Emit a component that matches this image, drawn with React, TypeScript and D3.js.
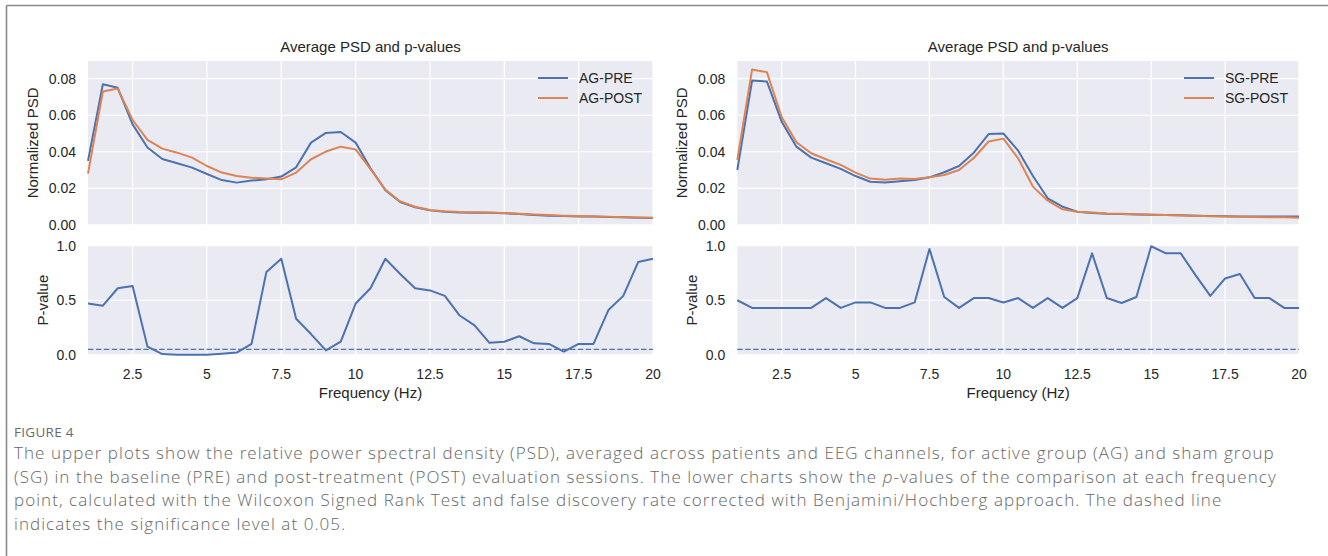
import React from "react";
import * as d3 from "d3";

// frequency bins (Hz)
const freqs = [
	1, 1.5, 2, 2.5, 3, 3.5, 4, 4.5, 5, 5.5, 6, 6.5, 7, 7.5, 8, 8.5, 9, 9.5, 10, 10.5,
	11, 11.5, 12, 12.5, 13, 13.5, 14, 14.5, 15, 15.5, 16, 16.5, 17, 17.5, 18, 18.5, 19, 19.5, 20
];
const xTicks = [2.5, 5, 7.5, 10, 12.5, 15, 17.5, 20];
const psdTicks = [0, 0.02, 0.04, 0.06, 0.08];
const pTicks = [0, 0.5, 1];
const alpha = 0.05;

const agPre = [
	0.035, 0.077, 0.075, 0.055, 0.0423, 0.036, 0.0337, 0.0313, 0.0278, 0.0245, 0.0231, 0.0242, 0.0249,
	0.0264, 0.0315, 0.045, 0.0503, 0.0508, 0.045, 0.031, 0.019, 0.0125, 0.0096, 0.0079, 0.0072, 0.0068,
	0.0066, 0.0066, 0.0063, 0.0059, 0.0054, 0.005, 0.0048, 0.0046, 0.0045, 0.0043, 0.0041, 0.0039, 0.0037
];
const agPost = [
	0.028, 0.073, 0.0746, 0.0574, 0.0465, 0.0417, 0.0395, 0.0368, 0.0322, 0.0286, 0.0267, 0.0258, 0.0253,
	0.0249, 0.0286, 0.0359, 0.0401, 0.0428, 0.0413, 0.0305, 0.0192, 0.0128, 0.0099, 0.0081, 0.0074, 0.007,
	0.0069, 0.0068, 0.0065, 0.0061, 0.0057, 0.0053, 0.005, 0.0048, 0.0046, 0.0044, 0.0042, 0.004, 0.0038
];
const agP = [
	0.47, 0.45, 0.61, 0.63, 0.075, 0.007, 0.0, 0.0, 0.0, 0.01, 0.02, 0.1, 0.76, 0.88, 0.33, 0.19, 0.04, 0.12,
	0.47, 0.61, 0.88, 0.74, 0.61, 0.59, 0.54, 0.36, 0.27, 0.11, 0.12, 0.17, 0.105, 0.1, 0.03, 0.1, 0.1,
	0.41, 0.54, 0.85, 0.88
];
const sgPre = [
	0.03, 0.079, 0.0785, 0.0565, 0.0428, 0.0368, 0.0337, 0.0306, 0.0267, 0.0236, 0.0231, 0.0238, 0.0245,
	0.026, 0.0288, 0.0322, 0.0395, 0.0497, 0.05, 0.0406, 0.0267, 0.0145, 0.0099, 0.0072, 0.0065, 0.006,
	0.0059, 0.0057, 0.0055, 0.0054, 0.0052, 0.005, 0.0048, 0.0047, 0.0046, 0.0046, 0.0045, 0.0045, 0.0045
];
const sgPost = [
	0.0355, 0.085, 0.0836, 0.059, 0.0452, 0.0392, 0.0359, 0.0328, 0.0286, 0.0253, 0.0247, 0.0253, 0.0251,
	0.026, 0.0273, 0.03, 0.0366, 0.0456, 0.0472, 0.0364, 0.0209, 0.0132, 0.0085, 0.0072, 0.0068, 0.0062,
	0.006, 0.0058, 0.0055, 0.0053, 0.0051, 0.0049, 0.0047, 0.0045, 0.0044, 0.0043, 0.0042, 0.0041, 0.0039
];
const sgP = [
	0.5, 0.43, 0.43, 0.43, 0.43, 0.43, 0.52, 0.43, 0.48, 0.48, 0.43, 0.43, 0.48, 0.97, 0.53, 0.43, 0.52, 0.52,
	0.48, 0.52, 0.43, 0.52, 0.43, 0.52, 0.93, 0.52, 0.475, 0.53, 0.995, 0.93, 0.93, 0.73, 0.54, 0.7, 0.74,
	0.52, 0.52, 0.43, 0.43
];

const captionLines = [
	"The upper plots show the relative power spectral density (PSD), averaged across patients and EEG channels, for active group (AG) and sham group",
	"(SG) in the baseline (PRE) and post-treatment (POST) evaluation sessions. The lower charts show the |p|-values of the comparison at each frequency",
	"point, calculated with the Wilcoxon Signed Rank Test and false discovery rate corrected with Benjamini/Hochberg approach. The dashed line",
	"indicates the significance level at 0.05."
];

const BLUE = "#4c72b0";
const ORANGE = "#dd8452";
const BG = "#eaeaf2";
const INK = "#262626";
const FONT = "'Liberation Sans', Arial, sans-serif";

interface PanelProps {
	left: number;
	right: number;
	pre: number[];
	post: number[];
	pvals: number[];
	group: string;
}

const Panel = (props: PanelProps) => {
	const x = d3.scaleLinear().domain([1, 20]).range([props.left, props.right]);
	const yPsd = d3.scaleLinear().domain([0, 0.0897]).range([224.8, 61]);
	const yP = d3.scaleLinear().domain([0, 1]).range([354.8, 245.7]);
	const psdLine = (vals: number[]) =>
		d3.line<number>().x((_, i) => x(freqs[i])).y((d) => yPsd(d))(vals) || "";
	const pLine = d3.line<number>().x((_, i) => x(freqs[i])).y((d) => yP(d))(props.pvals) || "";
	const mid = (props.left + props.right) / 2;
	const legendX = props.right - 115;
	return (
		<g fontFamily={FONT} fill={INK}>
			<text x={mid} y={51.5} fontSize={15} textAnchor="middle">Average PSD and p-values</text>

			{/* PSD axes */}
			<rect x={props.left} y={61} width={props.right - props.left} height={224.8 - 61} fill={BG} />
			{psdTicks.map((t) => (
				<g key={t}>
					<line x1={props.left} x2={props.right} y1={yPsd(t)} y2={yPsd(t)} stroke="white" strokeWidth={1.2} />
					<text x={props.left - 12} y={yPsd(t) + 5} fontSize={14} textAnchor="end">{t.toFixed(2)}</text>
				</g>
			))}
			{xTicks.map((t) => (
				<line key={t} x1={x(t)} x2={x(t)} y1={61} y2={224.8} stroke="white" strokeWidth={1.2} />
			))}
			<path d={psdLine(props.pre)} fill="none" stroke={BLUE} strokeWidth={2} strokeLinejoin="round" />
			<path d={psdLine(props.post)} fill="none" stroke={ORANGE} strokeWidth={2} strokeLinejoin="round" />
			<text transform={`translate(${props.left - 50},142.9) rotate(-90)`} fontSize={15} textAnchor="middle">
				Normalized PSD
			</text>
			{[
				{ label: `${props.group}-PRE`, color: BLUE, y: 78 },
				{ label: `${props.group}-POST`, color: ORANGE, y: 98 }
			].map((l) => (
				<g key={l.label}>
					<line x1={legendX} x2={legendX + 30} y1={l.y} y2={l.y} stroke={l.color} strokeWidth={2} />
					<text x={legendX + 41} y={l.y + 5} fontSize={14}>{l.label}</text>
				</g>
			))}

			{/* p-value axes */}
			<rect x={props.left} y={245.7} width={props.right - props.left} height={354.8 - 245.7} fill={BG} />
			{pTicks.map((t) => (
				<g key={t}>
					<line x1={props.left} x2={props.right} y1={yP(t)} y2={yP(t)} stroke="white" strokeWidth={1.2} />
					<text x={props.left - 12} y={yP(t) + 5} fontSize={14} textAnchor="end">{t.toFixed(1)}</text>
				</g>
			))}
			{xTicks.map((t) => (
				<g key={t}>
					<line x1={x(t)} x2={x(t)} y1={245.7} y2={354.8} stroke="white" strokeWidth={1.2} />
					<text x={x(t)} y={379} fontSize={14} textAnchor="middle">{t}</text>
				</g>
			))}
			<line x1={props.left} x2={props.right} y1={yP(alpha)} y2={yP(alpha)} stroke={BLUE} strokeWidth={1.4} strokeDasharray="5.5,2.4" />
			<path d={pLine} fill="none" stroke={BLUE} strokeWidth={2} strokeLinejoin="round" />
			<text transform={`translate(${props.left - 40},300.2) rotate(-90)`} fontSize={15} textAnchor="middle">
				P-value
			</text>
			<text x={mid} y={397.5} fontSize={15} textAnchor="middle">Frequency (Hz)</text>
		</g>
	);
};

export default function App() {
	return (
		<svg width={1328} height={556} style={{ position: "absolute", left: 0, top: 0, background: "white" }}>
			<line x1={6.5} x2={1328} y1={5.5} y2={5.5} stroke="#8a8a8a" strokeWidth={1.6} />
			<line x1={6.5} x2={6.5} y1={5.5} y2={556} stroke="#8a8a8a" strokeWidth={1.6} />
			<Panel left={88} right={653} pre={agPre} post={agPost} pvals={agP} group="AG" />
			<Panel left={737.3} right={1299} pre={sgPre} post={sgPost} pvals={sgP} group="SG" />
			<g fontFamily="'Open Sans', Lato, sans-serif" fill="#666">
				<text x={14} y={437} fontSize={13.5} letterSpacing={0.3} fill="#6a6a6a">FIGURE 4</text>
				{captionLines.map((line, i) => (
					<text key={i} x={14} y={459 + i * 23.6} fontSize={17} fontWeight={300} letterSpacing={1.05}>
						{line.split("|").map((part, j) =>
							j % 2 === 1 ? <tspan key={j} fontStyle="italic">{part}</tspan> : <tspan key={j}>{part}</tspan>
						)}
					</text>
				))}
			</g>
		</svg>
	);
}
